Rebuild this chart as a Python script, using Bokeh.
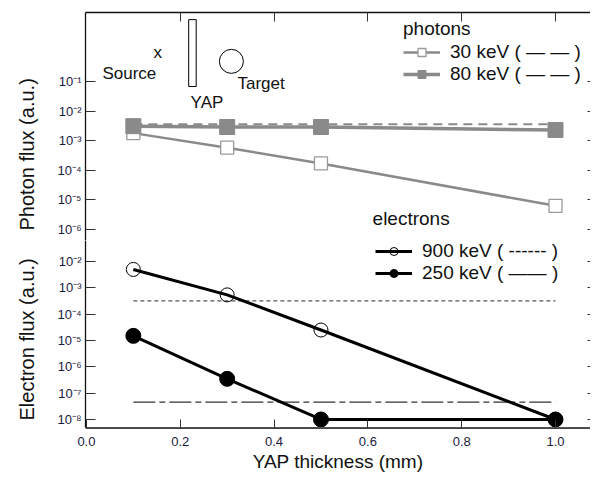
import math

from bokeh.plotting import figure
from bokeh.layouts import column
from bokeh.models import (Range1d, LogAxis, LinearAxis, FixedTicker, Legend,
                          LegendItem, Label, Title)
from bokeh.embed import file_html
from bokeh.resources import INLINE

# YAP thickness (mm)
thickness = [0.1, 0.3, 0.5, 1.0]

# photon flux (a.u.)
photon_30kev = [1.8e-3, 5.8e-4, 1.7e-4, 6.3e-6]
photon_80kev = [3.1e-3, 2.9e-3, 2.9e-3, 2.3e-3]
photon_limit = [3.6e-3, 3.6e-3]

# electron flux (a.u.)
electron_900kev = [5.0e-3, 5.4e-4, 2.5e-5, 1.0e-8]
electron_250kev = [1.5e-5, 3.5e-7, 1.0e-8, 1.0e-8]
electron_900kev_limit = [3.2e-4, 3.2e-4]
electron_250kev_limit = [4.6e-8, 4.6e-8]
limit_x = [0.1, 1.0]

# ticks
photon_ticks = [1e-1, 1e-2, 1e-3, 1e-4, 1e-5, 1e-6]
electron_ticks = [1e-2, 1e-3, 1e-4, 1e-5, 1e-6, 1e-7, 1e-8]
x_ticks = [0.0, 0.2, 0.4, 0.6, 0.8, 1.0]
x_tick_labels = ["0.0", "0.2", "0.4", "0.6", "0.8", "1.0"]

FONT = "Liberation Sans"
GREY = "#8a8a8a"
TICK_COLOR = "#1a1a40"
SUP = str.maketrans("-0123456789", "⁻⁰¹²³⁴⁵⁶⁷⁸⁹")


def decade_label(v):
    return "10" + str(round(math.log10(v))).translate(SUP)


def y_axes(p, ticks, title, offset):
    left = LogAxis(ticker=FixedTicker(ticks=ticks),
                   major_label_overrides={v: decade_label(v) for v in ticks})
    left.major_tick_in = 10
    left.major_tick_out = 0
    left.major_tick_line_color = "#333333"
    left.axis_line_color = "#111111"
    left.axis_line_width = 1.3
    left.major_label_standoff = 4
    left.major_label_text_font = FONT
    left.major_label_text_font_size = "13px"
    left.major_label_text_color = TICK_COLOR
    p.add_layout(left, "left")

    # y title, placed on its own so it can sit off-centre
    p.add_layout(Title(text=title, align="left", offset=offset, vertical_align="top",
                       standoff=29, text_font=FONT, text_font_size="20px",
                       text_font_style="normal", text_color="#111111"), "left")

    # ticks only on the right edge
    right = LogAxis(ticker=FixedTicker(ticks=ticks),
                    major_label_overrides={v: "" for v in ticks})
    right.axis_line_color = None
    right.major_tick_in = 3
    right.major_tick_out = 0
    right.major_tick_line_color = "#333333"
    right.major_label_standoff = 0
    p.add_layout(right, "right")


x_range = Range1d(-0.002, 1.0746)

# ---- top panel: photons
top = figure(frame_width=505, frame_height=228, x_range=x_range,
             y_range=Range1d(10 ** -6.372, 10 ** 1.331), y_axis_type="log",
             x_axis_location=None, y_axis_location=None,
             min_border_left=85, min_border_right=0, min_border_top=12,
             min_border_bottom=0, outline_line_color=None,
             output_backend="svg", toolbar_location=None)
top.grid.visible = False
y_axes(top, photon_ticks, "Photon flux (a.u.)", 10)

above = LinearAxis(ticker=FixedTicker(ticks=x_ticks[1:]),
                   major_label_overrides={v: "" for v in x_ticks[1:]})
above.major_tick_in = 9
above.major_tick_out = 0
above.major_tick_line_color = "#333333"
above.axis_line_color = "#111111"
above.axis_line_width = 1.3
above.major_label_standoff = 0
top.add_layout(above, "above")

top.line(limit_x, photon_limit, line_color=GREY, line_width=2, line_dash="9 6")
l30 = top.line(thickness, photon_30kev, line_color=GREY, line_width=2.5)
m30 = top.scatter(thickness, photon_30kev, marker="square", size=13,
                  line_color="#9a9a9a", line_width=1.3, fill_color="white")
l80 = top.line(thickness, photon_80kev, line_color=GREY, line_width=3.5)
m80 = top.scatter(thickness, photon_80kev, marker="square", size=15,
                  line_color=GREY, fill_color=GREY)

leg_photons = Legend(items=[LegendItem(label="30 keV ( — — )", renderers=[l30, m30]),
                            LegendItem(label="80 keV ( — — )", renderers=[l80, m80])],
                     title="photons", location=(318, 155))
top.add_layout(leg_photons)

# schematic of the set-up
top.quad(left=[0.218], right=[0.234], bottom=[10 ** -1.17], top=[10 ** 1.09],
         fill_color="white", line_color="black", line_width=1)
top.scatter([0.309], [10 ** -0.32], marker="circle", size=24,
            fill_color=None, line_color="black", line_width=1)
for txt, x, y in [("Source", 0.034, 10 ** -0.73), ("x", 0.143, 10 ** -0.02),
                  ("YAP", 0.222, 10 ** -1.71), ("Target", 0.322, 10 ** -1.07)]:
    top.add_layout(Label(x=x, y=y, text=txt, text_font=FONT, text_font_size="17px",
                         text_baseline="middle", text_color="#111111"))

top.add_layout(Label(x=0.61, y=10 ** -5.63, text="electrons", text_font=FONT,
                     text_font_size="19px", text_baseline="middle",
                     text_color="#111111"))

# ---- bottom panel: electrons
bottom = figure(frame_width=505, frame_height=187, x_range=x_range,
                y_range=Range1d(10 ** -8.304, 10 ** -1.202), y_axis_type="log",
                x_axis_location=None, y_axis_location=None,
                min_border_left=85, min_border_right=0, min_border_top=0,
                min_border_bottom=0, outline_line_color=None,
                output_backend="svg", toolbar_location=None)
bottom.grid.visible = False
y_axes(bottom, electron_ticks, "Electron flux (a.u.)", 7)

# double line along the bottom: a bare inner axis, then the labelled one
inner = LinearAxis(ticker=FixedTicker(ticks=[0.0]), major_label_overrides={0.0: ""})
inner.axis_line_color = "#555555"
inner.axis_line_width = 1
inner.major_tick_in = 0
inner.major_tick_out = 1
inner.major_label_standoff = 0
inner.major_label_text_font_size = "1px"
bottom.add_layout(inner, "below")

below = LinearAxis(ticker=FixedTicker(ticks=x_ticks),
                   major_label_overrides=dict(zip(x_ticks, x_tick_labels)),
                   axis_label="YAP thickness (mm)")
below.axis_line_color = "#444444"
below.axis_line_width = 1.2
below.major_tick_in = 9
below.major_tick_out = 0
below.major_tick_line_color = "#333333"
below.major_label_standoff = 8
below.major_label_text_font = FONT
below.major_label_text_font_size = "13px"
below.major_label_text_color = TICK_COLOR
below.axis_label_standoff = 2
below.axis_label_text_font = FONT
below.axis_label_text_font_size = "19px"
below.axis_label_text_font_style = "normal"
below.axis_label_text_color = "#111111"
bottom.add_layout(below, "below")

bottom.line(limit_x, electron_900kev_limit, line_color="#555555", line_width=1.2,
            line_dash="4 3")
bottom.line(limit_x, electron_250kev_limit, line_color="#333333", line_width=1.2,
            line_dash="22 4 6 4")
l900 = bottom.line(thickness, electron_900kev, line_color="black", line_width=3)
m900 = bottom.scatter(thickness, electron_900kev, marker="circle", size=14,
                      line_color="black", line_width=1, fill_color=None)
l250 = bottom.line(thickness, electron_250kev, line_color="black", line_width=3)
m250 = bottom.scatter(thickness, electron_250kev, marker="circle", size=15,
                      line_color="black", fill_color="black")

leg_electrons = Legend(items=[LegendItem(label="900 keV ( ------ )", renderers=[l900, m900]),
                              LegendItem(label="250 keV ( —— )", renderers=[l250, m250])],
                       location=(290, 143))
bottom.add_layout(leg_electrons)

for leg in (leg_photons, leg_electrons):
    leg.border_line_color = None
    leg.background_fill_alpha = 0
    leg.padding = 0
    leg.margin = 0
    leg.spacing = 0
    leg.glyph_width = 37
    leg.label_standoff = 10
    leg.label_text_font = FONT
    leg.label_text_font_size = "19px"
    leg.label_text_color = "#111111"
    leg.title_text_font = FONT
    leg.title_text_font_size = "19px"
    leg.title_text_font_style = "normal"
    leg.title_text_color = "#111111"
    leg.title_standoff = 1

p = column(top, bottom, spacing=0)

open("out.html", "w").write(file_html(p, INLINE))
